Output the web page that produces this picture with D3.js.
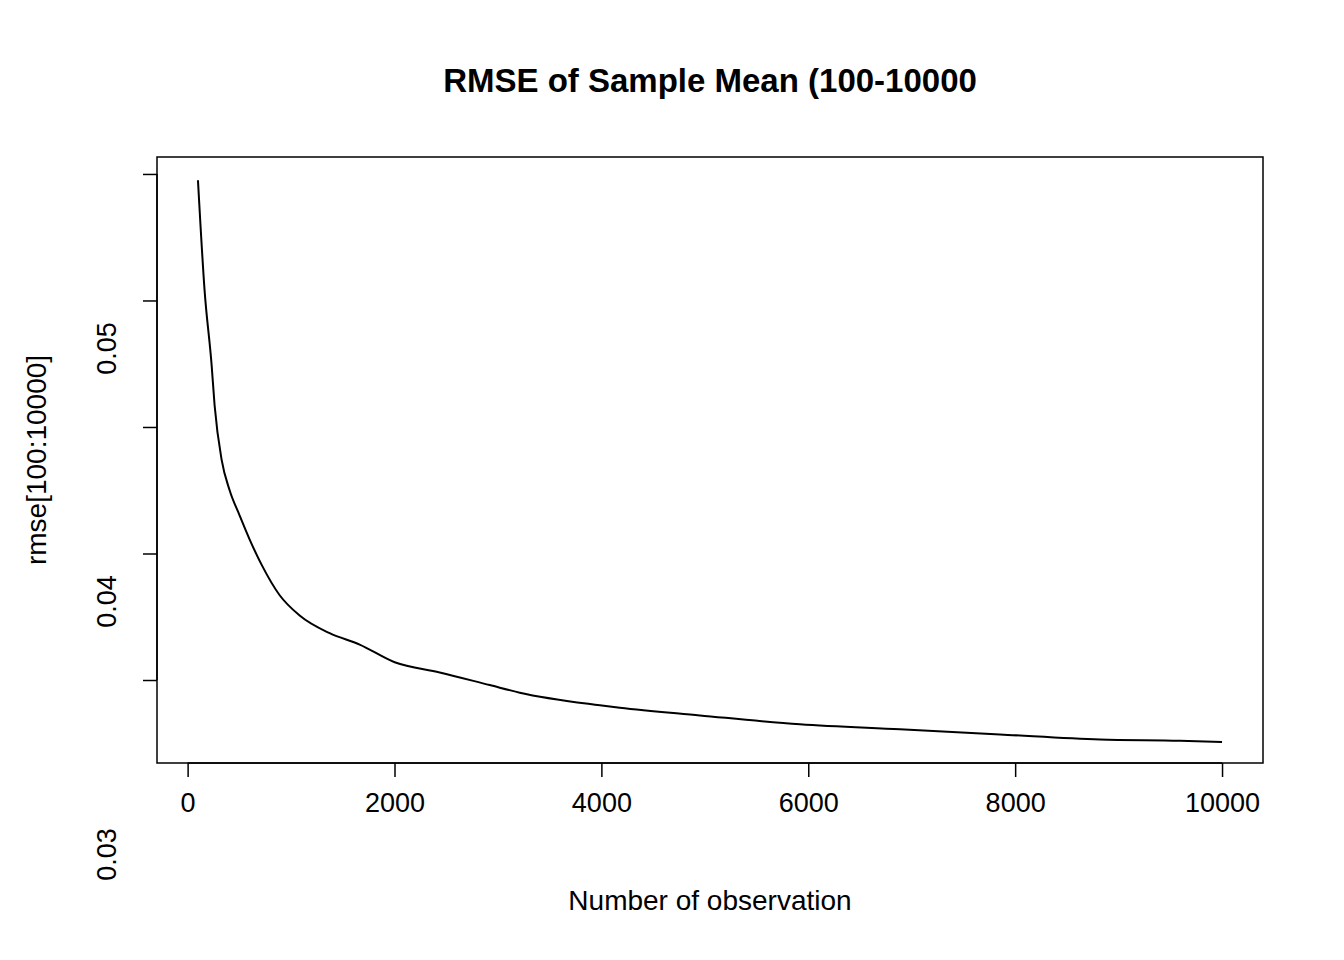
<!DOCTYPE html>
<html>
<head>
<meta charset="utf-8">
<script src="https://cdn.jsdelivr.net/npm/d3@7"></script>
<style>
body { margin: 0; background: #fff; }
text { font-family: "Liberation Sans", Arial, sans-serif; }
</style>
</head>
<body>
<svg id="chart" width="1344" height="960"></svg>
<script>
// values
var obs = [100, 164, 232, 261, 329, 406, 503, 600, 716, 890, 1083, 1373, 1663, 2002, 2437, 2921, 3211, 3985, 4178, 4952, 5919, 6886, 7853, 8820, 9594, 10000]
var rmse = [0.0495, 0.0408, 0.0349, 0.0317, 0.0274, 0.0250, 0.0230, 0.0211, 0.0191, 0.0167, 0.0151, 0.0137, 0.0128, 0.0114, 0.0106, 0.0096, 0.0090, 0.0080, 0.0078, 0.0072, 0.0065, 0.0061, 0.0057, 0.0053, 0.0052, 0.0051]
var xTicks = [0, 2000, 4000, 6000, 8000, 10000]
var yTicks = [0.01, 0.02, 0.03, 0.04, 0.05]

var pLeft = 157, pRight = 1263, pTop = 157, pBottom = 763

var svg = d3.select("#chart")

var x = d3.scaleLinear().domain([-296, 10396]).range([pLeft, pRight])
var y = d3.scaleLinear().domain([0.00344, 0.05134]).range([pBottom, pTop])

svg.append("rect")
    .attr("x", pLeft).attr("y", pTop)
    .attr("width", pRight - pLeft).attr("height", pBottom - pTop)
    .style("fill", "none").style("stroke", "#000").style("stroke-width", 1.5)

var xa = svg.append("g")
    .attr("transform", "translate(0," + pBottom + ")")
    .call(d3.axisBottom(x).tickValues(xTicks).tickSize(14).tickPadding(16).tickFormat(d3.format("d")))
xa.select(".domain").attr("d", "M" + x(0) + ",0H" + x(10000)).style("stroke-width", 1.5)
xa.selectAll("line").style("stroke-width", 1.5)
xa.selectAll("text").style("font-size", "27px")

var ya = svg.append("g")
    .attr("transform", "translate(" + pLeft + ",0)")
    .call(d3.axisLeft(y).tickValues(yTicks).tickSize(14).tickPadding(0).tickFormat(d3.format(".2f")))
ya.select(".domain").attr("d", "M0," + y(0.01) + "V" + y(0.05)).style("stroke-width", 1.5)
ya.selectAll("line").style("stroke-width", 1.5)
ya.selectAll("text")
    .style("font-size", "27px")
    .attr("x", null).attr("dy", null).attr("y", 0)
    .attr("text-anchor", "middle")
    .attr("transform", function(d) { return "translate(-50," + (y(d) - pTop + pTop) + ") rotate(-90) translate(0,9)" })

var line = d3.line().x(function(d, i) { return x(obs[i]) }).y(function(d) { return y(d) }).curve(d3.curveMonotoneX)
svg.append("path")
    .datum(rmse)
    .attr("d", line)
    .style("fill", "none").style("stroke", "#000").style("stroke-width", 2)

svg.append("text")
    .attr("x", 710).attr("y", 92)
    .attr("text-anchor", "middle")
    .style("font-size", "33px").style("font-weight", "bold")
    .text("RMSE of Sample Mean (100-10000")

svg.append("text")
    .attr("x", 710).attr("y", 910)
    .attr("text-anchor", "middle")
    .style("font-size", "28px")
    .text("Number of observation")

svg.append("text")
    .attr("transform", "translate(46,460) rotate(-90)")
    .attr("text-anchor", "middle")
    .style("font-size", "28px")
    .text("rmse[100:10000]")
</script>
</body>
</html>
